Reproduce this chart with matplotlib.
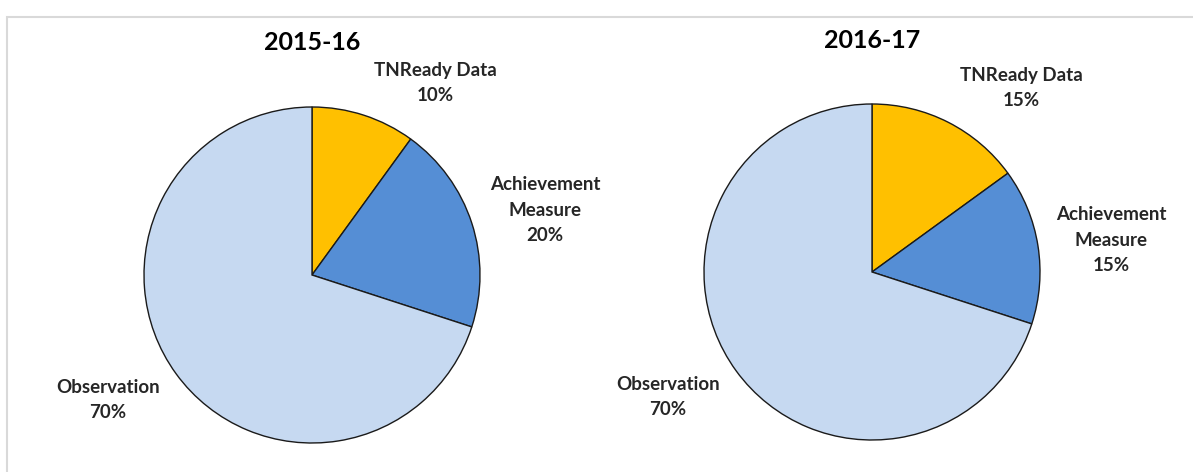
import matplotlib
matplotlib.use('Agg')
import matplotlib.pyplot as plt
from matplotlib.patches import Rectangle

years = ['2015-16', '2016-17']
categories = ['TNReady Data', 'Achievement\nMeasure', 'Observation']
shares_2015 = [10, 20, 70]
shares_2016 = [15, 15, 70]
colors = ['#FFC000', '#558ED5', '#C6D9F1']

W, H = 1193, 472
plt.rcParams['font.family'] = ['Lato', 'DejaVu Sans']

fig = plt.figure(figsize=(W / 100, H / 100), dpi=100)
ax = fig.add_axes([0, 0, 1, 1])

# pixel layout (y measured from top)
centers = [(312, 275), (872, 272)]
radius = 168
title_pos = [(312, 42), (872, 40)]
label_pos = [
    [(435, 83), (545, 210), (108, 400)],
    [(1021, 88), (1111, 240), (668, 397)],
]

for i, shares in enumerate([shares_2015, shares_2016]):
    cx, cy = centers[i]
    ax.pie(shares, colors=colors, startangle=90, counterclock=False,
           center=(cx, H - cy), radius=radius,
           wedgeprops=dict(edgecolor='#1a1a1a', linewidth=1.0))
    tx, ty = title_pos[i]
    ax.text(tx, H - ty, years[i], ha='center', va='center',
            fontsize=18, fontweight='bold', color='black')
    for cat, val, (lx, ly) in zip(categories, shares, label_pos[i]):
        ax.text(lx, H - ly, f'{cat}\n{val}%', ha='center', va='center',
                fontsize=13.5, fontweight='bold', color='#262626',
                linespacing=1.6)

ax.add_patch(Rectangle((7, -5), W, H - 12, fill=False,
                       edgecolor='#d9d9d9', linewidth=1.5))
ax.set_xlim(0, W)
ax.set_ylim(0, H)
ax.set_aspect('equal')
ax.axis('off')

fig.savefig('out.png', dpi=100)
